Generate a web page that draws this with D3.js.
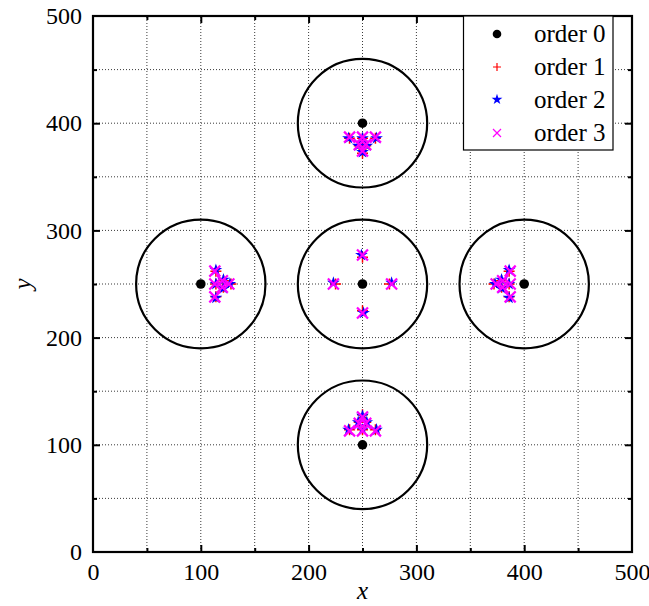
<!DOCTYPE html>
<html><head><meta charset="utf-8">
<script src="https://cdn.jsdelivr.net/npm/d3@7"></script>
<style>body{margin:0;background:#fff}svg{display:block}svg text{font-family:"Liberation Serif","Times New Roman",Tinos,Times,"Nimbus Roman","DejaVu Serif","Noto Serif",serif}</style>
</head><body>
<script>
const xTicks = [0,100,200,300,400,500];
const yTicks = [0,100,200,300,400,500];
const gridVals = [50,100,150,200,250,300,350,400,450];
const minorVals = [50,150,250,350,450];
const circleRadius = 60;
const order0 = [[250,400],[100,250],[250,250],[400,250],[250,100]];
const order1 = [
  [250,275],[225,250],[275,250],[250,225],
  [238,386],[250,386],[262,386],[247,379],[253,379],[250,372],
  [238,114],[250,114],[262,114],[247,121],[253,121],[250,128],
  [114,262],[114,250],[114,238],[121,253],[121,247],[128,250],
  [386,262],[386,250],[386,238],[379,253],[379,247],[372,250]];
const order2 = [
  [249,277],[223,251],[277,251],[251,223],
  [237,386],[250,386],[263,386],[246,379],[254,379],[250,373],
  [237,114],[250,114],[263,114],[246,121],[254,121],[250,127],
  [114,263],[114,250],[114,237],[121,254],[121,246],[127,250],
  [386,263],[386,250],[386,237],[379,254],[379,246],[373,250]];
const order3 = [
  [250,277],[223,250],[277,250],[250,223],
  [238,387],[250,387],[262,387],[247,380],[253,380],[250,374],
  [238,113],[250,113],[262,113],[247,120],[253,120],[250,126],
  [113,262],[113,250],[113,238],[120,253],[120,247],[126,250],
  [387,262],[387,250],[387,238],[380,253],[380,247],[374,250]];
const legendLabels = ["order 0","order 1","order 2","order 3"];

const W=649,H=606, m={l:93,r:17,t:16,b:54};
const svg=d3.select("body").append("svg").attr("width",W).attr("height",H);
const x=d3.scaleLinear().domain([0,500]).range([m.l,W-m.r]);
const y=d3.scaleLinear().domain([0,500]).range([H-m.b,m.t]);
const font='"Liberation Serif","Times New Roman",Tinos,Times,"Nimbus Roman","DejaVu Serif","Noto Serif",serif';

const g=svg.append("g");
g.selectAll(".gx").data(gridVals).join("line")
 .attr("x1",d=>x(d)).attr("x2",d=>x(d)).attr("y1",y(0)).attr("y2",y(500))
 .attr("stroke","#222").attr("stroke-width",0.9).attr("stroke-dasharray","1,2");
g.selectAll(".gy").data(gridVals).join("line")
 .attr("y1",d=>y(d)).attr("y2",d=>y(d)).attr("x1",x(0)).attr("x2",x(500))
 .attr("stroke","#222").attr("stroke-width",0.9).attr("stroke-dasharray","1,2");

function ax(axisFn, scale, vals, len, tr){
  svg.append("g").attr("transform",tr)
   .call(axisFn(scale).tickValues(vals).tickSize(len).tickFormat(""))
   .call(s=>{s.select(".domain").remove();s.selectAll("line").attr("stroke","#000").attr("stroke-width",2);});
}
const majors=[100,200,300,400];
ax(d3.axisTop,x,majors,7,`translate(0,${y(0)})`);
ax(d3.axisTop,x,minorVals,4,`translate(0,${y(0)})`);
ax(d3.axisBottom,x,majors,7,`translate(0,${y(500)})`);
ax(d3.axisBottom,x,minorVals,4,`translate(0,${y(500)})`);
ax(d3.axisRight,y,majors,7,`translate(${x(0)},0)`);
ax(d3.axisRight,y,minorVals,4,`translate(${x(0)},0)`);
ax(d3.axisLeft,y,majors,7,`translate(${x(500)},0)`);
ax(d3.axisLeft,y,minorVals,4,`translate(${x(500)},0)`);

const xa=svg.append("g").attr("transform",`translate(0,${y(0)})`)
 .call(d3.axisBottom(x).tickValues(xTicks).tickSize(0).tickPadding(11));
xa.attr("font-family",null).attr("font-size",null);
xa.select(".domain").remove();
xa.selectAll("text").style("font-family",font).style("font-size","24px").attr("fill","#000");
const ya=svg.append("g").attr("transform",`translate(${x(0)},0)`)
 .call(d3.axisLeft(y).tickValues(yTicks).tickSize(0).tickPadding(11));
ya.attr("font-family",null).attr("font-size",null);
ya.select(".domain").remove();
ya.selectAll("text").style("font-family",font).style("font-size","24px").attr("fill","#000");

svg.append("text").attr("x",(x(0)+x(500))/2).attr("y",599).attr("text-anchor","middle")
 .style("font-family",font).style("font-size","25px").style("font-style","italic").text("x");
svg.append("text").attr("transform",`translate(31,${(y(0)+y(500))/2}) rotate(-90)`).attr("text-anchor","middle")
 .style("font-family",font).style("font-size","25px").style("font-style","italic").text("y");

svg.append("g").selectAll("ellipse").data(order0).join("ellipse")
 .attr("cx",d=>x(d[0])).attr("cy",d=>y(d[1]))
 .attr("rx",x(circleRadius)-x(0)).attr("ry",y(0)-y(circleRadius))
 .attr("fill","none").attr("stroke","#000").attr("stroke-width",2.2);

const plusPath="M-5.5,0H5.5M0,-5.5V5.5";
const xPath="M-5.5,-5.5L5.5,5.5M-5.5,5.5L5.5,-5.5";
const star=d3.symbol().type(d3.symbolStar).size(50)();
function drawO0(sel,data){sel.selectAll("circle").data(data).join("circle")
 .attr("cx",d=>x(d[0])).attr("cy",d=>y(d[1])).attr("r",4.8).attr("fill","#000");}
function drawPath(sel,data,p,stroke,fill,sw){sel.selectAll("path").data(data).join("path")
 .attr("transform",d=>`translate(${x(d[0])},${y(d[1])})`).attr("d",p)
 .attr("stroke",stroke).attr("stroke-width",sw).attr("fill",fill);}
drawPath(svg.append("g"),order1,plusPath,"#ff0000","none",1.5);
drawPath(svg.append("g"),order2,star,"none","#0000ff",0);
drawPath(svg.append("g"),order3,xPath,"#ff00ff","none",2.2);
drawO0(svg.append("g"),order0);

svg.append("rect").attr("x",x(0)).attr("y",y(500)).attr("width",x(500)-x(0)).attr("height",y(0)-y(500))
 .attr("fill","none").attr("stroke","#000").attr("stroke-width",2.2);

const lg=svg.append("g");
lg.append("rect").attr("x",463.5).attr("y",y(500)).attr("width",149.5).attr("height",150-y(500))
 .attr("fill","#fff").attr("stroke","#000").attr("stroke-width",1.2);
const rows=[34,67,99.5,133];
legendLabels.forEach((t,i)=>{
  const gy=rows[i];
  if(i===0) lg.append("circle").attr("cx",497).attr("cy",gy).attr("r",4.3).attr("fill","#000");
  if(i===1) lg.append("path").attr("transform",`translate(497,${gy})`).attr("d","M-4,0H4M0,-4V4").attr("stroke","#ff0000").attr("stroke-width",1.2);
  if(i===2) lg.append("path").attr("transform",`translate(497,${gy})`).attr("d",d3.symbol().type(d3.symbolStar).size(36)()).attr("fill","#0000ff");
  if(i===3) lg.append("path").attr("transform",`translate(497,${gy})`).attr("d","M-4,-4L4,4M-4,4L4,-4").attr("stroke","#ff00ff").attr("stroke-width",1.2);
  lg.append("text").attr("x",534).attr("y",gy+8).style("font-family",font).style("font-size","25px").text(t);
});
</script>
</body></html>
